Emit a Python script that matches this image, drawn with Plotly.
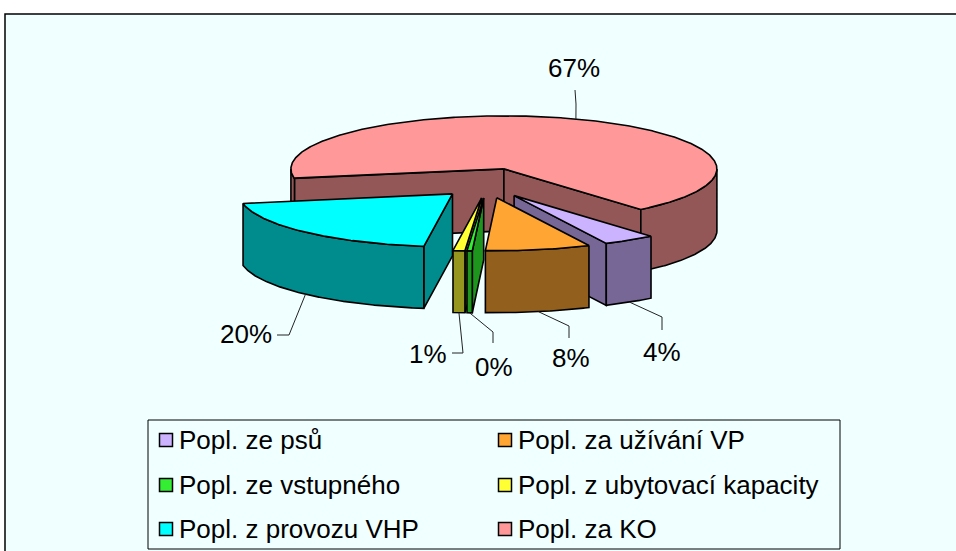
import numpy as np
import plotly.graph_objects as go

# ---------------- data ----------------
CATEGORIES = ["Popl. ze psů", "Popl. za užívání VP", "Popl. ze vstupného",
              "Popl. z ubytovací kapacity", "Popl. z provozu VHP", "Popl. za KO"]
VALUES = [4.0, 8.0, 0.4, 0.9, 20.0, 67.0]
TOP_COLORS = ["#CCB3FF", "#FFA533", "#33EE33", "#FFFF33", "#00FFFF", "#FF9999"]
SIDE_COLORS = ["#776796", "#935F1D", "#1E961E", "#96961E", "#008C8C", "#935757"]

# ---------------- layout / geometry constants (pixels) ----------------
W, HGT = 956, 551
CX, CY = 487, 183          # pie centre (top face)
A, B = 213, 53             # ellipse radii
DEPTH = 62                 # thickness of the pie
EXP_X, EXP_Y = 50, 15      # explosion offset
START = 50                 # start angle (deg, clockwise on screen from +x)
FONT = "Liberation Sans, Arial, sans-serif"
FS_LABEL = 26
FS_LEG = 26

# leader lines: elbow point, end point, text position, text anchor
LEADERS = [
    ((662, 317), (662, 330), (662, 352), "center"),
    ((569, 326), (569, 338), (571, 358), "center"),
    ((493, 332), (493, 343), (494, 367), "center"),
    ((463, 353), (452, 353), (449, 354), "right"),
    ((289, 335), (277, 335), (274, 334), "right"),
    ((576, 104), (575, 90), (574, 68), "center"),
]

LEG_BOX = (148, 420, 840, 549)
LEG_COLS = [166, 505]
LEG_ROWS = [440, 485, 529]

total = sum(VALUES)
fracs = [v / total for v in VALUES]
cum = np.concatenate([[0], np.cumsum(fracs)])


def pt(theta, dz, off):
    t = np.radians(theta)
    return CX + off[0] + A * np.cos(t), CY + off[1] + B * np.sin(t) + dz


fig = go.Figure()


def poly(xs, ys, color):
    xs = list(xs) + [xs[0]]
    ys = list(ys) + [ys[0]]
    fig.add_trace(go.Scatter(x=xs, y=ys, mode="lines", fill="toself",
                             fillcolor=color, line=dict(color="black", width=1.6),
                             hoverinfo="skip", showlegend=False))


slices = []
for i in range(len(VALUES)):
    t1 = START + 360 * cum[i]
    t2 = START + 360 * cum[i + 1]
    mid = (t1 + t2) / 2
    m = np.radians(mid)
    off = (EXP_X * np.cos(m), EXP_Y * np.sin(m))
    slices.append((i, t1, t2, mid, off))

# painter's order: back first
order = sorted(slices, key=lambda s: np.sin(np.radians(s[3])))
anchors = {}
for i, t1, t2, mid, off in order:
    side = SIDE_COLORS[i]
    apex = (CX + off[0], CY + off[1])
    n = max(4, int((t2 - t1) * 2))
    th = np.linspace(t1, t2, n)
    # radial faces
    for tt, vis in ((t1, np.cos(np.radians(t1)) < 0), (t2, np.cos(np.radians(t2)) > 0)):
        if vis:
            rx, ry = pt(tt, 0, off)
            poly([apex[0], rx, rx, apex[0]], [apex[1], ry, ry + DEPTH, apex[1] + DEPTH], side)
    # outer wall, front-facing parts
    fine = np.linspace(t1, t2, max(8, int((t2 - t1) * 4)))
    vis = np.sin(np.radians(fine)) > 0
    runs, cur = [], []
    for tt, v in zip(fine, vis):
        if v:
            cur.append(tt)
        elif cur:
            runs.append(cur); cur = []
    if cur:
        runs.append(cur)
    for r in runs:
        r = np.array(r)
        xt, yt = pt(r, 0, off)
        xb, yb = pt(r[::-1], DEPTH, off)
        poly(list(xt) + list(xb), list(yt) + list(yb), side)
    # top face
    xt, yt = pt(th, 0, off)
    poly([apex[0]] + list(xt), [apex[1]] + list(yt), TOP_COLORS[i])
    # label anchor
    if np.sin(np.radians(mid)) > 0:
        anchors[i] = pt(mid, DEPTH, off)
    else:
        anchors[i] = pt(mid, 0, off)

annotations = []
for i in range(len(VALUES)):
    (ex, ey), (fx, fy), (tx, ty), anc = LEADERS[i]
    ax, ay = anchors[i]
    fig.add_trace(go.Scatter(x=[ax, ex, fx], y=[ay, ey, fy], mode="lines",
                             line=dict(color="#222222", width=1),
                             hoverinfo="skip", showlegend=False))
    annotations.append(dict(x=tx, y=ty, xref="x", yref="y", text=f"{round(fracs[i]*100):.0f}%",
                            showarrow=False, xanchor=anc, yanchor="middle",
                            font=dict(family=FONT, size=FS_LABEL, color="black")))

# legend (manual, 2 columns x 3 rows)
kx, ky = [], []
for i, name in enumerate(CATEGORIES):
    c, r = i % 2, i // 2
    kx.append(LEG_COLS[c]); ky.append(LEG_ROWS[r])
    annotations.append(dict(x=LEG_COLS[c] + 11, y=LEG_ROWS[r], xref="x", yref="y",
                            text=name, showarrow=False, xanchor="left", yanchor="middle",
                            font=dict(family=FONT, size=FS_LEG, color="black")))
fig.add_trace(go.Scatter(x=kx, y=ky, mode="markers",
                         marker=dict(symbol="square", size=13, color=TOP_COLORS,
                                     line=dict(color="black", width=1.5)),
                         hoverinfo="skip", showlegend=False))

shapes = [
    dict(type="rect", xref="x", yref="y", x0=5, y0=14, x1=W + 5, y1=HGT + 5,
         fillcolor="#F0FFFF", line=dict(color="black", width=1.5), layer="below"),
    dict(type="rect", xref="x", yref="y", x0=LEG_BOX[0], y0=LEG_BOX[1], x1=LEG_BOX[2], y1=LEG_BOX[3],
         fillcolor="rgba(0,0,0,0)", line=dict(color="black", width=1), layer="below"),
]

fig.update_layout(
    width=W, height=HGT, margin=dict(l=0, r=0, t=0, b=0),
    paper_bgcolor="white", plot_bgcolor="white",
    xaxis=dict(range=[0, W], visible=False, fixedrange=True),
    yaxis=dict(range=[HGT, 0], visible=False, fixedrange=True),
    shapes=shapes, annotations=annotations, showlegend=False,
)
fig.write_html("out.html", config={"displayModeBar": False},
               post_script="document.body.style.margin='0';document.body.style.overflow='hidden';")
